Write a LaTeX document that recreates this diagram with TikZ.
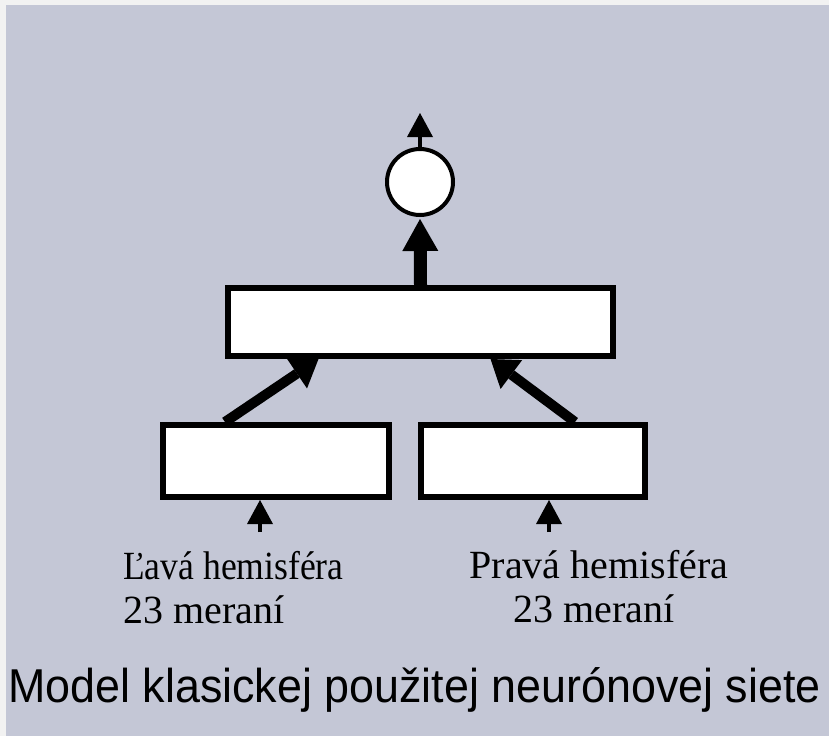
\documentclass[tikz,border=0pt]{standalone}
\usepackage{fontspec}
\setmainfont{Liberation Serif}
\newfontfamily\capfont{Liberation Sans}
\usetikzlibrary{arrows.meta}
\definecolor{panel}{HTML}{C4C7D6}
\definecolor{frame}{HTML}{F2F2F2}
\begin{document}
\begin{tikzpicture}[x=1pt,y=-1pt,
  layerbox/.style={draw=black, fill=white, line width=6pt, inner sep=0pt,
    minimum height=72pt, minimum width=#1},
  unit/.style={circle, draw=black, fill=white, line width=4pt, inner sep=0pt,
    minimum size=66pt},
  thinarrow/.style={line width=4pt,
    -{Triangle[length=24pt,width=26pt,line width=0pt]}},
  fatarrow/.style={line width=13pt,
    -{Triangle[length=32pt,width=36pt,line width=0pt]}},
  diagarrow/.style={line width=10pt,
    -{Triangle[length=26pt,width=36pt,line width=0pt]}},
  lbl/.style={inner sep=0pt, font=\fontsize{40}{48}\selectfont},
  caption/.style={inner sep=0pt, font=\capfont\fontsize{47.5}{57}\selectfont}]

  % backdrop
  \fill[frame] (0,0) rectangle (829,736);
  \fill[panel] (6,5) rectangle (829,736);
  \useasboundingbox (0,0) rectangle (829,736);

  % network blocks
  \node[layerbox=385pt, minimum height=68pt] (hid) at (420.5,322) {};
  \node[layerbox=226pt] (left) at (276,461) {};
  \node[layerbox=224pt] (right) at (533,461) {};
  \node[unit] (outn) at (420,182) {};

  % free ends of the input and output arrows
  \coordinate (out) at (420,113);
  \coordinate (inL) at (260,532);
  \coordinate (inR) at (549,532);

  % connections
  \draw[thinarrow] (outn.north) -- (out);
  \draw[fatarrow, shorten >=2pt] (hid.north) -- (outn.south);
  \draw[diagarrow] ([xshift=65pt]left.north west) -- ([xshift=-102pt]hid.south);
  \draw[diagarrow] ([xshift=157pt]right.north west) -- ([xshift=70pt]hid.south);
  \draw[thinarrow] (inL) -- ([xshift=-16pt]left.south);
  \draw[thinarrow] (inR) -- ([xshift=16pt]right.south);

  % input labels
  \node[lbl, anchor=base west, xscale=0.89] (lname) at (123,579) {Ľavá hemisféra};
  \node[lbl, anchor=base west] (lcount) at (123,623) {23 meraní};
  \node[lbl, anchor=base] (rname) at (599,578) {Pravá hemisféra};
  \node[lbl, anchor=base] (rcount) at (594,622) {23 meraní};

  % caption
  \node[caption, anchor=base west, xscale=0.944] (cap) at (8,702)
    {Model klasickej použitej neurónovej siete};
\end{tikzpicture}
\end{document}
